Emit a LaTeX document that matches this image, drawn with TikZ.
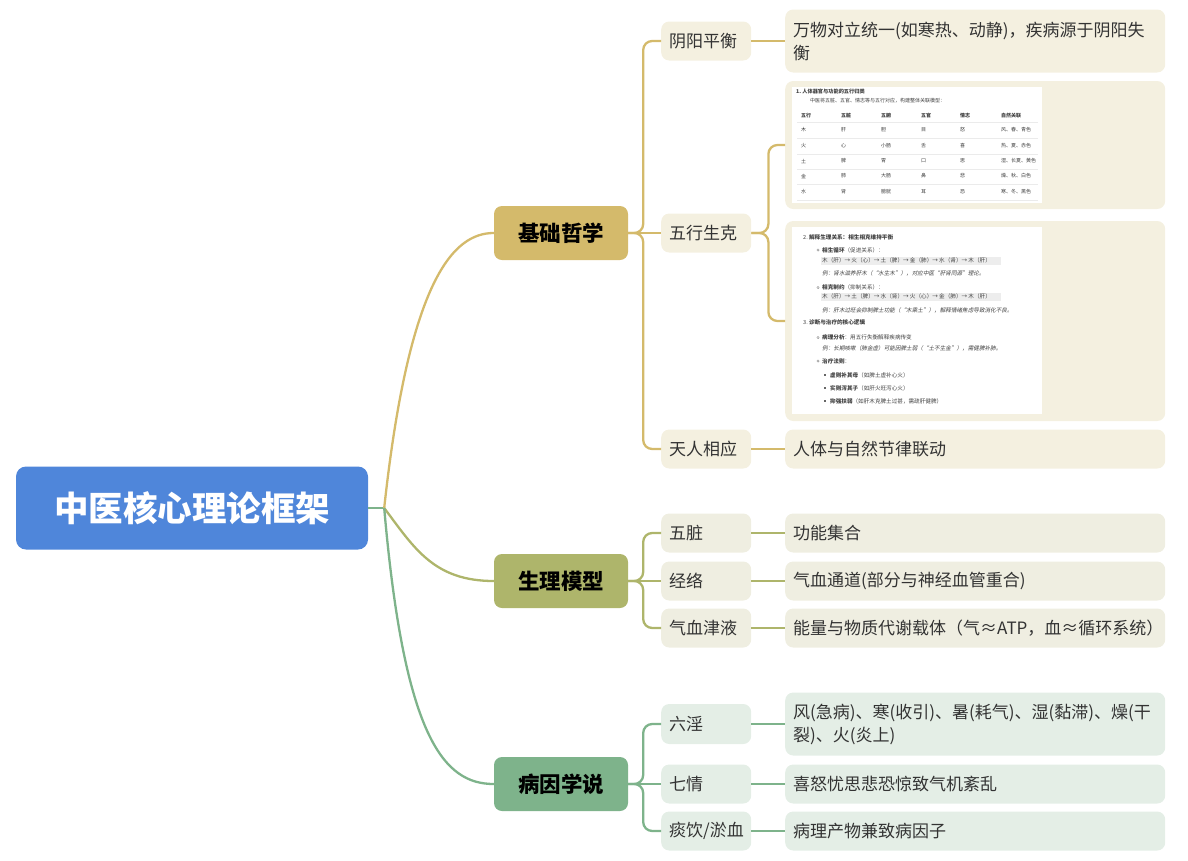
\documentclass[tikz,border=0pt]{standalone}
\usepackage{fontspec}
\setmainfont{Noto Sans CJK SC}
\newfontfamily\corsivo[FakeSlant=0.2]{Noto Sans CJK SC}
\usepackage{tikz}
\definecolor{radice}{HTML}{4F86DA}
\definecolor{oro}{HTML}{D4BA6B}
\definecolor{oliva}{HTML}{AEB56B}
\definecolor{salvia}{HTML}{7EB38B}
\definecolor{crema}{HTML}{F4F0E0}
\definecolor{cremaol}{HTML}{EFEEE1}
\definecolor{cremave}{HTML}{E4EEE6}
\definecolor{testo}{HTML}{333333}

\begin{document}
\begin{tikzpicture}[x=1pt,y=-1pt,
            every node/.style={font=\fontsize{17}{23}\selectfont, text=testo},
            tema/.style={rounded corners=8pt, minimum width=134pt, minimum height=54pt,
                    inner sep=0pt, font=\fontsize{21.5}{26}\selectfont\bfseries, text=black},
            ramo/.style={rounded corners=8pt, inner xsep=8pt, inner ysep=0pt,
                    minimum height=39pt, text width=74pt, align=left, anchor=west},
            foglia/.style={rounded corners=8pt, inner xsep=8pt, inner ysep=0pt,
                    minimum height=39pt, text width=364pt, align=left, anchor=west},
            mini/.style={font=\fontsize{5}{6}\selectfont, text=black!75, anchor=west, inner sep=0pt},
            linea/.style={line width=2.3pt, rounded corners=9pt},
            curva/.style={line width=2.3pt}]
        \useasboundingbox (0,0) rectangle (1188,860);
        \def\xr{661} \def\xf{785}

        % Radice e temi
        \node[fill=radice, rounded corners=10pt, minimum width=352pt, minimum height=83pt,
            text=white, font=\fontsize{34.5}{40}\selectfont\bfseries] (root) at (192,508) {中医核心理论框架};
        \node[tema, fill=oro] (phil) at (561,233) {基础哲学};
        \node[tema, fill=oliva] (phys) at (561,581) {生理模型};
        \node[tema, fill=salvia] (caus) at (561,784) {病因学说};

        % Rami
        \node[ramo, fill=crema] (yy) at (\xr,41) {阴阳平衡};
        \node[ramo, fill=crema] (wx) at (\xr,233) {五行生克};
        \node[ramo, fill=crema] (tr) at (\xr,449) {天人相应};
        \node[ramo, fill=cremaol] (wz) at (\xr,533) {五脏};
        \node[ramo, fill=cremaol] (jl) at (\xr,581) {经络};
        \node[ramo, fill=cremaol] (qx) at (\xr,628) {气血津液};
        \node[ramo, fill=cremave, minimum height=40pt] (ly) at (\xr,724) {六淫};
        \node[ramo, fill=cremave] (qq) at (\xr,784) {七情};
        \node[ramo, fill=cremave] (ty) at (\xr,831) {痰饮/淤血};

        % Foglie
        \node[foglia, fill=crema, minimum height=63pt] (d1) at (\xf,41)
            {万物对立统一(如寒热、动静)，疾病源于阴阳失\\衡};
        \node[foglia, fill=crema, minimum height=128pt] (img1) at (\xf,145) {};
        \node[foglia, fill=crema, minimum height=200pt] (img2) at (\xf,321) {};
        \node[foglia, fill=crema] (d4) at (\xf,449) {人体与自然节律联动};
        \node[foglia, fill=cremaol] (d5) at (\xf,533) {功能集合};
        \node[foglia, fill=cremaol] (d6) at (\xf,581) {气血通道(部分与神经血管重合)};
        \node[foglia, fill=cremaol] (d7) at (\xf,628) {能量与物质代谢载体（气≈ATP，血≈循环系统）};
        \node[foglia, fill=cremave, minimum height=63pt] (d8) at (\xf,724)
            {风(急病)、寒(收引)、暑(耗气)、湿(黏滞)、燥(干\\裂)、火(炎上)};
        \node[foglia, fill=cremave] (d9) at (\xf,784) {喜怒忧思悲恐惊致气机紊乱};
        \node[foglia, fill=cremave] (d10) at (\xf,831) {病理产物兼致病因子};

        % Collegamenti
        \draw[curva, salvia] (root.east) -- ++(16,0) coordinate (hub);
        \draw[curva, oro] (hub) .. controls +(25,-230) and +(-40,0) .. (phil.west);
        \draw[curva, oliva] (hub) .. controls +(30,40) and +(-60,0) .. (phys.west);
        \draw[curva, salvia] (hub) .. controls +(20,230) and +(-50,0) .. (caus.west);

        \foreach \t/\a/\b/\c/\col in {phil/yy/wx/tr/oro, phys/wz/jl/qx/oliva, caus/ly/qq/ty/salvia}{
                \draw[linea, \col] (\t.east) -- ++(15,0) |- (\a.west);
                \draw[linea, \col] (\t.east) -- (\b.west);
                \draw[linea, \col] (\t.east) -- ++(15,0) |- (\c.west);
            }
        \draw[linea, oro] (wx.east) -- ++(17,0) |- (img1.west);
        \draw[linea, oro] (wx.east) -- ++(17,0) |- (img2.west);
        \foreach \a/\b/\col in {yy/d1/oro, tr/d4/oro, wz/d5/oliva, jl/d6/oliva, qx/d7/oliva,
                ly/d8/salvia, qq/d9/salvia, ty/d10/salvia}{
                \draw[linea, \col] (\a.east) -- (\b.west);
            }

        % Schermata 1: tabella
        \fill[white] (792,87) rectangle (1042,203);
        \node[mini, font=\fontsize{5.2}{6}\selectfont\bfseries] at (796,91.5) {1.\ 人体器官与功能的五行归类};
        \node[mini] at (810,100.5) {中医将五脏、五官、情志等与五行对应，构建整体关联模型：};
        \foreach \yl in {122,138,154,169,184,200}{
                \draw[black!8, line width=0.5pt] (797,\yl) -- (1038,\yl);
            }
        \foreach \ya/\a/\b/\c/\d/\e/\f in {
                115.5/五行/五脏/五腑/五官/情志/自然关联}{
                \foreach \xc/\val in {801/\a, 841/\b, 881/\c, 921/\d, 960/\e, 1001/\f}{
                        \node[mini, font=\fontsize{5}{6}\selectfont\bfseries] at (\xc,\ya) {\val};
                    }
            }
        \foreach \ya/\a/\b/\c/\d/\e/\f in {
                130/木/肝/胆/目/怒/风、春、青色,
                146/火/心/小肠/舌/喜/热、夏、赤色,
                161/土/脾/胃/口/思/湿、长夏、黄色,
                176/金/肺/大肠/鼻/悲/燥、秋、白色,
                191.5/水/肾/膀胱/耳/恐/寒、冬、黑色}{
                \foreach \xc/\val in {801/\a, 841/\b, 881/\c, 921/\d, 960/\e, 1001/\f}{
                        \node[mini] at (\xc,\ya) {\val};
                    }
            }

        % Schermata 2: relazioni
        \fill[white] (792,227) rectangle (1042,414);
        \fill[black!7] (820.5,256.5) rectangle (1000.5,265);
        \fill[black!7] (820.5,292.5) rectangle (1000.5,301);
        \foreach \yb in {250,287.5,337.5,361}{
                \draw[black!45, line width=0.4pt] (818,\yb) circle (1.2);
            }
        \foreach \yb in {375,388,401}{
                \fill[black!60] (824,\yb-1) rectangle +(2,2);
            }
        \begin{scope}[every node/.append style={mini, font=\fontsize{5.6}{6}\selectfont}]
            \node at (803,237) {2.\ \textbf{解释生理关系：相生相克维持平衡}};
            \node at (822,250) {\textbf{相生循环}（促进关系）：};
            \node at (822,260.7) {木（肝）→ 火（心）→ 土（脾）→ 金（肺）→ 水（肾）→ 木（肝）};
            \node at (822,273.5) {\corsivo 例：肾水滋养肝木（“水生木”），对应中医“肝肾同源”理论。};
            \node at (822,287.5) {\textbf{相克制约}（抑制关系）：};
            \node at (822,296.7) {木（肝）→ 土（脾）→ 水（肾）→ 火（心）→ 金（肺）→ 木（肝）};
            \node at (822,310) {\corsivo 例：肝木过旺会抑制脾土功能（“木乘土”），解释情绪焦虑导致消化不良。};
            \node at (803,322.5) {3.\ \textbf{诊断与治疗的核心逻辑}};
            \node at (822,337.5) {\textbf{病理分析}：用五行失衡解释疾病传变};
            \node at (822,348.5) {\corsivo 例：长期咳嗽（肺金虚）可能因脾土弱（“土不生金”），需健脾补肺。};
            \node at (822,361) {\textbf{治疗法则}：};
            \node at (830,375) {\textbf{虚则补其母}（如脾土虚补心火）};
            \node at (830,388) {\textbf{实则泻其子}（如肝火旺泻心火）};
            \node at (830,401) {\textbf{抑强扶弱}（如肝木克脾土过甚，需疏肝健脾）};
        \end{scope}
    \end{tikzpicture}
\end{document}
